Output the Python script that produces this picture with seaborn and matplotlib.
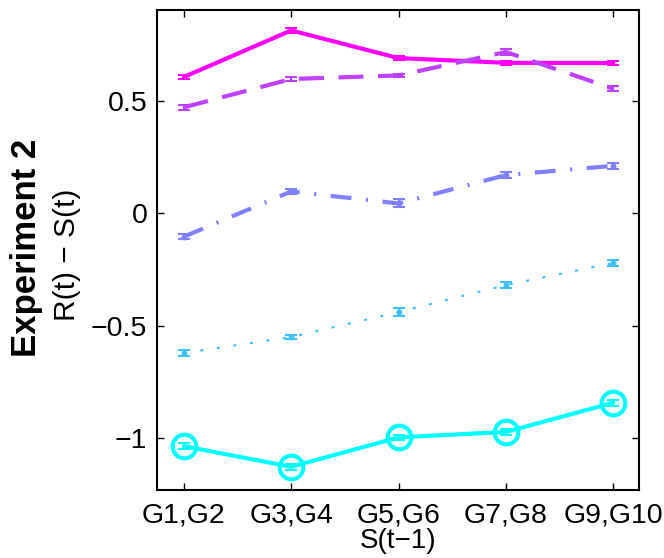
import matplotlib
matplotlib.use("Agg")
import matplotlib.pyplot as plt
import seaborn as sns
import numpy as np
import pandas as pd

categories = ["G1,G2", "G3,G4", "G5,G6", "G7,G8", "G9,G10"]
y_magenta = [0.605, 0.812, 0.689, 0.668, 0.667]
e_magenta = [0.010, 0.010, 0.008, 0.008, 0.010]
y_purple = [0.470, 0.596, 0.612, 0.716, 0.553]
e_purple = [0.010, 0.008, 0.008, 0.012, 0.010]
y_blue = [-0.105, 0.096, 0.043, 0.169, 0.210]
e_blue = [0.010, 0.012, 0.018, 0.015, 0.013]
y_lblue = [-0.622, -0.551, -0.440, -0.320, -0.222]
e_lblue = [0.012, 0.010, 0.018, 0.015, 0.013]
y_cyan = [-1.036, -1.128, -0.997, -0.973, -0.843]
e_cyan = [0.012, 0.012, 0.012, 0.012, 0.014]

sns.set_theme(style="ticks")
plt.rcParams['font.family'] = ['Liberation Sans', 'DejaVu Sans']
plt.rcParams['text.color'] = 'black'
plt.rcParams['axes.labelcolor'] = 'black'

fig = plt.figure(figsize=(6.64, 5.58), dpi=100)
ax = fig.add_axes([157/664, 1-490/558, (639-157)/664, (490-9.5)/558])

x = np.arange(1, len(categories)+1)
series = [
    (y_magenta, e_magenta, "#ff00ff", "-", 3.0, None, 0),
    (y_purple, e_purple, "#bf40ff", (0, (6, 3.5)), 3.0, None, 0),
    (y_blue, e_blue, "#8080ff", (0, (5, 3.5, 0.5, 3.5)), 3.0, ".", 7),
    (y_lblue, e_lblue, "#40bfff", (0, (1.5, 6.5)), 1.5, ".", 7),
    (y_cyan, e_cyan, "#00ffff", "-", 3.0, "o", 17),
]
for ys, es, col, ls, lw, mk, ms in series:
    df = pd.DataFrame({"x": x, "y": ys})
    kw = {}
    if mk is not None:
        kw = dict(marker=mk, markersize=ms)
        if mk == "o":
            kw.update(markerfacecolor="none", markeredgewidth=3, markeredgecolor=col)
        else:
            kw.update(markeredgecolor=col, markerfacecolor=col)
    sns.lineplot(data=df, x="x", y="y", ax=ax, color=col, linestyle=ls,
                 linewidth=lw, **kw)
    ax.errorbar(x, ys, yerr=es, fmt="none", ecolor=col, elinewidth=1.5,
                capsize=4, capthick=1.5)

ax.set_xlim(0.75, 5.24)
ax.set_ylim(-1.231, 0.905)
ax.set_xticks(x)
ax.set_xticklabels(categories)
ax.set_yticks([-1, -0.5, 0, 0.5])
ax.set_yticklabels(["\u22121", "\u22120.5", "0", "0.5"])
ax.tick_params(direction="in", length=5, width=1, top=True, right=True,
               labelsize=20.5, colors="black")
ax.tick_params(axis="x", pad=9)
ax.tick_params(axis="y", pad=7)
for s in ax.spines.values():
    s.set_linewidth(1.5)
    s.set_color("black")
ax.set_xlabel("S(t\u22121)", fontsize=20, labelpad=0, color="black")
ax.set_ylabel("")

fig.text(27/664, 1-248/558, "Experiment 2", rotation=90, fontsize=25,
         fontweight="bold", ha="center", va="center", color="black")
fig.text(67/664, 1-255/558, "R(t) \u2212 S(t)", rotation=90, fontsize=21.5,
         ha="center", va="center", color="black")

fig.savefig("out.png", dpi=100)
